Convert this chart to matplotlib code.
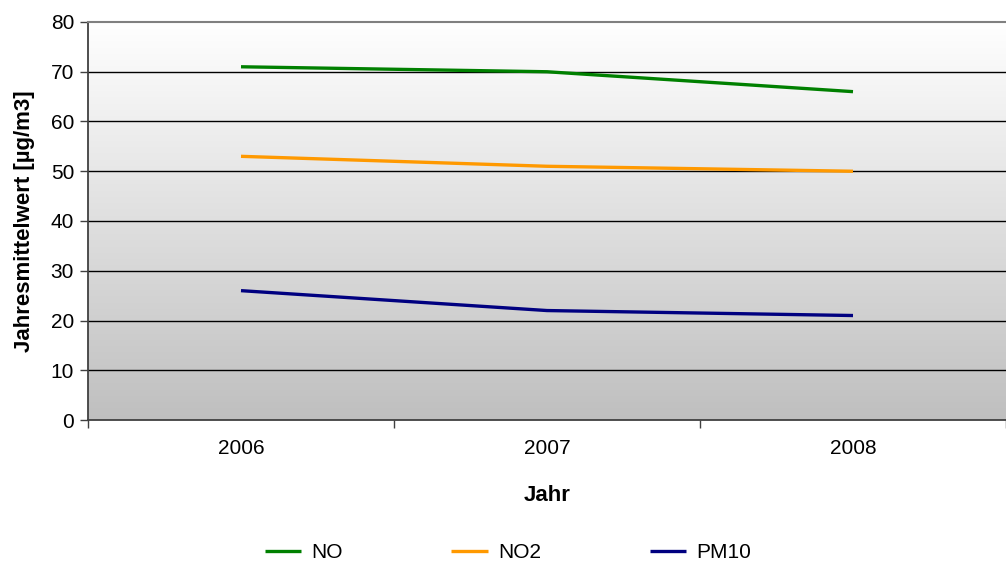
import numpy as np
import matplotlib
matplotlib.use("Agg")
import matplotlib.pyplot as plt

plt.rcParams['font.family'] = ['Liberation Sans', 'DejaVu Sans']

years = ["2006", "2007", "2008"]
no_vals = [71, 70, 66]
no2_vals = [53, 51, 50]
pm10_vals = [26, 22, 21]
series_names = ["NO", "NO2", "PM10"]
series_colors = ["#008000", "#FF9900", "#000080"]
y_ticks = [0, 10, 20, 30, 40, 50, 60, 70, 80]

FS = 15
W, H = 1006, 567
fig = plt.figure(figsize=(W / 100, H / 100), dpi=100)
left, right, top, bottom = 88, 1006, 22, 420
ax = fig.add_axes([left / W, 1 - bottom / H, (right - left) / W, (bottom - top) / H])

x = np.arange(len(years))

# vertical gradient background: white at the top, grey at the bottom
grad = np.linspace(0, 1, 256).reshape(-1, 1)
top_c = np.array([1.0, 1.0, 1.0])
bot_c = np.array([0.75, 0.75, 0.75])
img = top_c[None, None, :] * (1 - grad[:, :, None]) + bot_c[None, None, :] * grad[:, :, None]
ax.imshow(img, extent=[-0.5, len(years) - 0.5, 0, 80], origin='upper', aspect='auto', zorder=0)
ax.set_xlim(-0.5, len(years) - 0.5)
ax.set_ylim(0, 80)

for yv in y_ticks[1:-1]:
    ax.axhline(yv, color='black', lw=1.0, zorder=1)

for vals, name, col in zip([no_vals, no2_vals, pm10_vals], series_names, series_colors):
    ax.plot(x, vals, color=col, lw=2.4, label=name, zorder=3, solid_capstyle='butt')

ax.spines['top'].set_color('#808080')
ax.spines['top'].set_linewidth(1.5)
ax.spines['right'].set_visible(False)
ax.spines['left'].set_color('#404040')
ax.spines['left'].set_linewidth(1.3)
ax.spines['bottom'].set_color('#404040')
ax.spines['bottom'].set_linewidth(1.3)

ax.set_yticks(y_ticks)
ax.set_yticklabels([str(v) for v in y_ticks], fontsize=FS)
ax.tick_params(axis='y', length=6, width=1, color='#404040', pad=4)

# category boundary ticks with labels centred between them
ax.set_xticks(np.arange(-0.5, len(years) + 0.5, 1.0))
ax.set_xticklabels([])
ax.set_xticks(x, minor=True)
ax.set_xticklabels(years, minor=True, fontsize=FS)
ax.tick_params(axis='x', which='major', length=6, width=1, color='#404040')
ax.tick_params(axis='x', which='minor', length=0, pad=14)

ax.set_xlabel("Jahr", fontsize=16, fontweight='bold', labelpad=19)
ax.set_ylabel("Jahresmittelwert [µg/m3]", fontsize=16, fontweight='bold', labelpad=11)

handles, labels = ax.get_legend_handles_labels()
fig.legend(handles, labels, loc='center', bbox_to_anchor=(508 / W, 1 - 553 / H), ncol=3,
           frameon=False, fontsize=FS, columnspacing=5.2, handlelength=1.75,
           handletextpad=0.5)

fig.savefig("out.png", dpi=100)
